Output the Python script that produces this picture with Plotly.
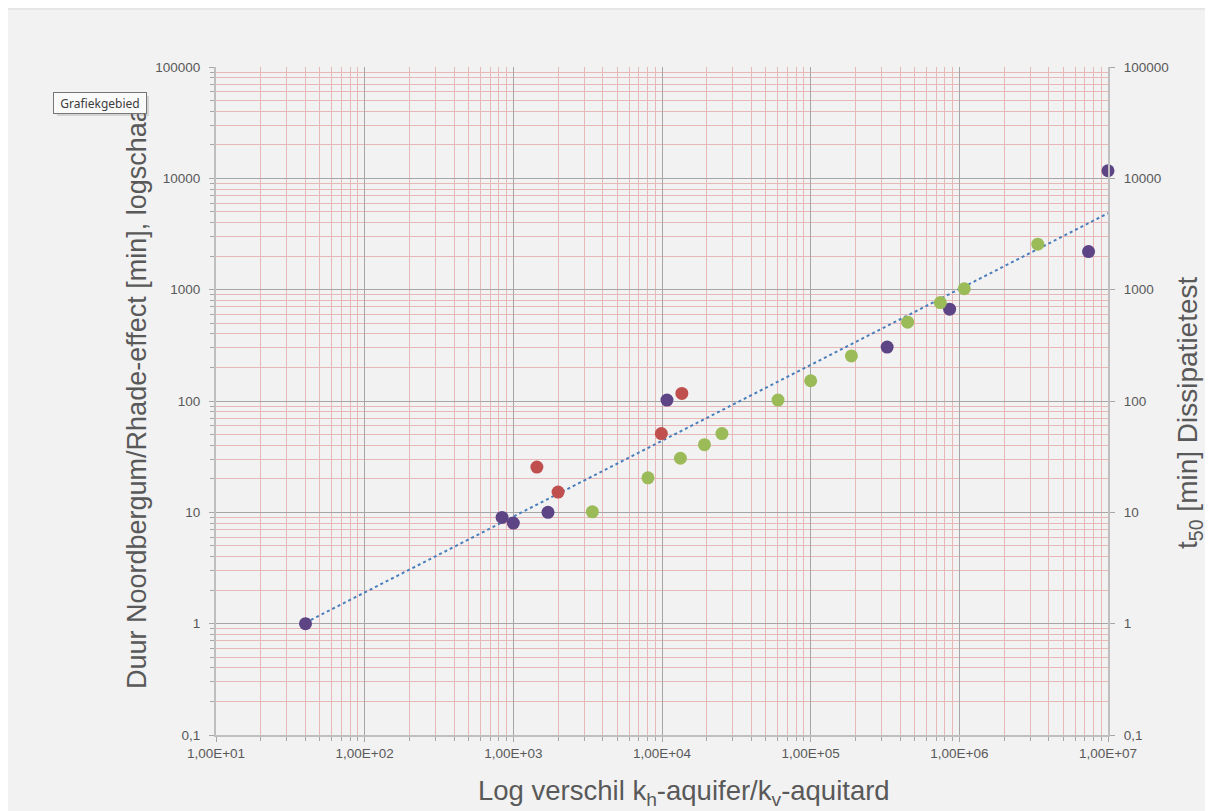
import numpy as np
import plotly.graph_objects as go

# ---- data ----
purple_x = [40, 840, 1000, 1710, 10800, 327000, 860000, 7400000, 10000000]
purple_y = [1, 9, 8, 10, 102, 305, 668, 2200, 11700]
red_x = [1440, 2000, 9900, 13600]
red_y = [25.5, 15.2, 51, 117]
green_x = [3400, 8050, 13300, 19300, 25300, 60300, 100000, 188000, 449000, 745000, 1080000, 3370000]
green_y = [10.1, 20.4, 30.6, 40.5, 51, 102, 152, 254, 511, 765, 1020, 2560]

x_tickvals = [1e1, 1e2, 1e3, 1e4, 1e5, 1e6, 1e7]
x_ticktext = ["1,00E+01", "1,00E+02", "1,00E+03", "1,00E+04", "1,00E+05", "1,00E+06", "1,00E+07"]
y_tickvals = [0.1, 1, 10, 100, 1000, 10000, 100000]
y_ticktext = ["0,1", "1", "10", "100", "1000", "10000", "100000"]

# ---- power trendline fitted on the purple series (as Excel does) ----
b, a = np.polyfit(np.log10(purple_x), np.log10(purple_y), 1)
tx = [min(purple_x), max(purple_x)]
ty = [10 ** (a + b * np.log10(v)) for v in tx]

PURPLE = "#5c4485"
RED = "#c0504d"
GREEN = "#9bbb59"
TREND = "#4a7ebb"
BG = "#f2f2f2"
MAJ = "#a6a6a6"
MIN = "#e6b8b7"
TXT = "#595959"

OFF = 8  # page body margin
W, H = 1213 - OFF, 811 - OFF
L, T = 216 - OFF, 67 - OFF
R = W - (1108 - OFF)
B = H - (735 - OFF)
PW, PH = W - L - R, H - T - B


def px2x(px):
    return (px - OFF - L) / PW


def py2y(py):
    return (T + PH - (py - OFF)) / PH


fig = go.Figure()
fig.add_trace(go.Scatter(x=tx, y=ty, mode="lines",
                         line=dict(color=TREND, width=2, dash="dot"),
                         showlegend=False, hoverinfo="skip"))
fig.add_trace(go.Scatter(x=purple_x, y=purple_y, mode="markers", cliponaxis=False,
                         marker=dict(color=PURPLE, size=13), showlegend=False))
fig.add_trace(go.Scatter(x=red_x, y=red_y, mode="markers", cliponaxis=False,
                         marker=dict(color=RED, size=13), showlegend=False))
fig.add_trace(go.Scatter(x=green_x, y=green_y, mode="markers", cliponaxis=False,
                         marker=dict(color=GREEN, size=13), showlegend=False))
# invisible trace to activate the secondary (right) axis
fig.add_trace(go.Scatter(x=purple_x[:1], y=purple_y[:1], yaxis="y2", mode="markers",
                         marker=dict(opacity=0), showlegend=False, hoverinfo="skip"))

tickfont = dict(family="Liberation Sans, Arial, sans-serif", size=13.5, color=TXT)
minor = dict(dtick="D1", showgrid=True, gridcolor=MIN, gridwidth=1,
             ticks="outside", ticklen=4, tickcolor=MAJ)

fig.update_layout(
    width=W, height=H,
    margin=dict(l=L, r=R, t=T, b=B),
    paper_bgcolor=BG, plot_bgcolor=BG,
    xaxis=dict(type="log", range=[1, 7], tickvals=x_tickvals, ticktext=x_ticktext,
               showgrid=True, gridcolor=MAJ, gridwidth=1.3,
               showline=True, linecolor="#bfbfbf", linewidth=2, mirror=False,
               ticks="outside", ticklen=5, tickcolor=MAJ,
               tickfont=tickfont, minor=minor, zeroline=False),
    yaxis=dict(type="log", range=[-1, 5], tickvals=y_tickvals, ticktext=y_ticktext,
               showgrid=True, gridcolor=MAJ, gridwidth=1.3,
               showline=True, linecolor="#bfbfbf", linewidth=2,
               ticks="outside", ticklen=5, tickcolor=MAJ, ticklabelstandoff=6,
               tickfont=tickfont, minor=minor, zeroline=False),
    yaxis2=dict(type="log", range=[-1, 5], overlaying="y", side="right",
                tickvals=y_tickvals, ticktext=y_ticktext, showgrid=False,
                showline=True, linecolor="#bfbfbf", linewidth=2,
                ticks="outside", ticklen=5, tickcolor=MAJ, ticklabelstandoff=6,
                tickfont=tickfont, zeroline=False),
    font=dict(family="Liberation Sans, Arial, sans-serif", color=TXT),
)

# thin border line near the top of the chart area
fig.add_shape(type="line", xref="paper", yref="paper",
              x0=px2x(0), x1=px2x(1213), y0=py2y(9), y1=py2y(9),
              line=dict(color="#d9d9d9", width=1))

# left axis title (its end is hidden behind the tooltip, as in the reference)
fig.add_annotation(text="Duur Noordbergum/Rhade-effect [min], logschaal",
                   xref="paper", yref="paper", x=px2x(137), y=py2y(691),
                   xanchor="center", yanchor="bottom", textangle=-90,
                   showarrow=False, font=dict(family="Liberation Sans, Arial, sans-serif", size=27, color=TXT))
# right axis title
fig.add_annotation(text="t<sub>50</sub> [min] Dissipatietest",
                   xref="paper", yref="paper", x=px2x(1189), y=py2y(413),
                   xanchor="center", yanchor="middle", textangle=-90,
                   showarrow=False, font=dict(family="Liberation Sans, Arial, sans-serif", size=28, color=TXT))
# x axis title
fig.add_annotation(text="Log verschil k<sub>h</sub>-aquifer/k<sub>v</sub>-aquitard",
                   xref="paper", yref="paper", x=px2x(684), y=py2y(792),
                   xanchor="center", yanchor="middle",
                   showarrow=False, font=dict(family="Liberation Sans, Arial, sans-serif", size=27.5, color=TXT))
# tooltip shadow + tooltip
fig.add_shape(type="rect", xref="paper", yref="paper",
              x0=px2x(57), x1=px2x(149), y0=py2y(116), y1=py2y(96),
              fillcolor="rgba(0,0,0,0.12)", line=dict(width=0))
fig.add_annotation(text="Grafiekgebied",
                   xref="paper", yref="paper", x=px2x(100), y=py2y(103),
                   xanchor="center", yanchor="middle", showarrow=False,
                   width=88, height=16,
                   font=dict(family="Noto Sans, DejaVu Sans, sans-serif", size=12, color="#3c3c3c"),
                   bgcolor="#fafafa", bordercolor="#767676", borderwidth=1, borderpad=2)

fig.write_html("out.html")
